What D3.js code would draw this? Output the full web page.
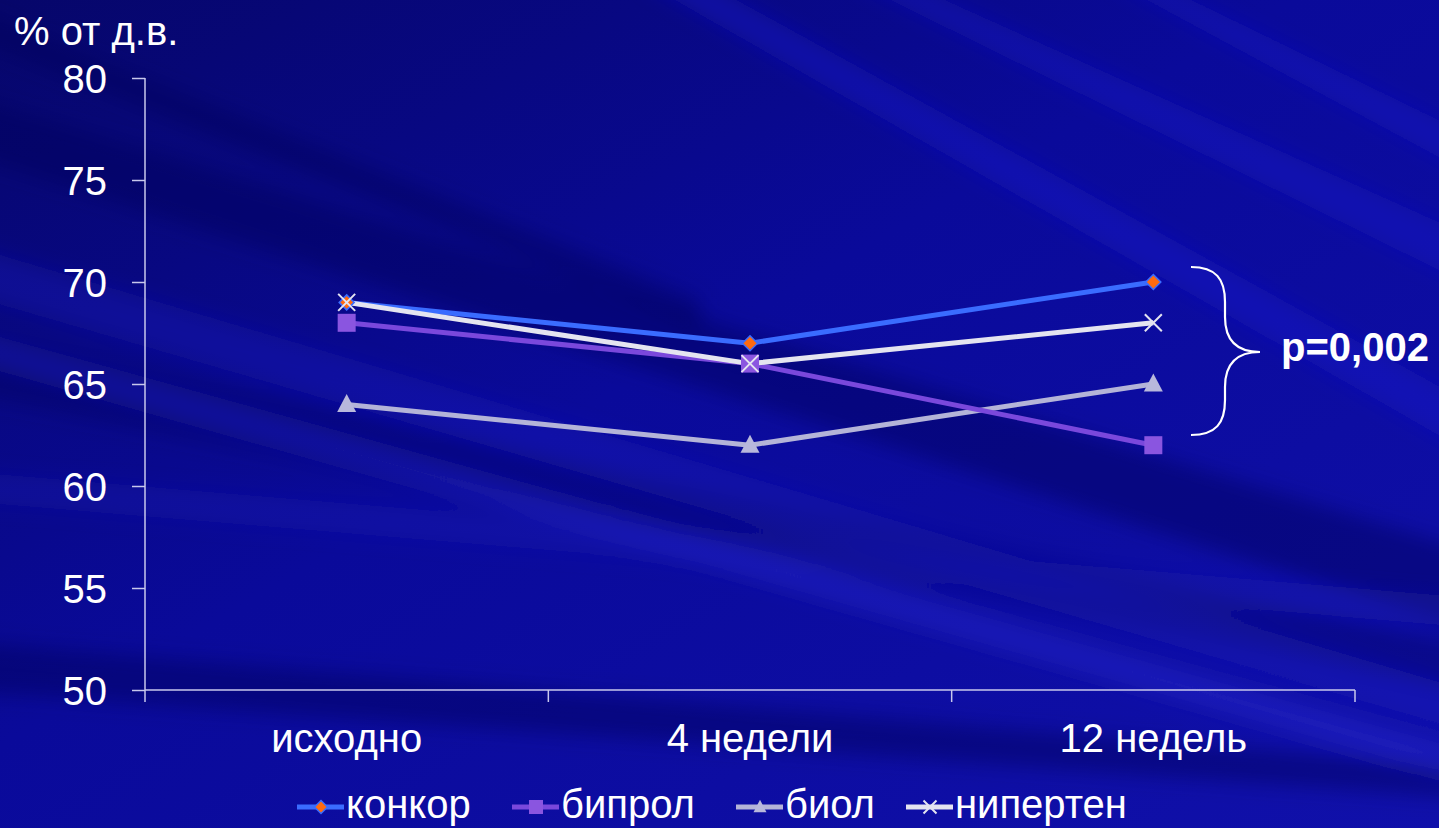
<!DOCTYPE html>
<html><head><meta charset="utf-8">
<script src="https://cdn.jsdelivr.net/npm/d3@7"></script>
<style>html,body{margin:0;padding:0;background:#0a0a90;overflow:hidden}</style>
</head><body>
<svg id="c" width="1439" height="828"></svg>
<script>
const categories = ["исходно", "4 недели", "12 недель"];
const yTicks = [50, 55, 60, 65, 70, 75, 80];
const seriesNames = ["конкор", "бипрол", "биол", "нипертен"];
const konkor = [69, 67, 70];
const biprol = [68, 66, 62];
const biol = [64, 62, 65];
const nipertan = [69, 66, 68];
const annotation = "p=0,002";
const yTitle = "% от д.в.";

const series = [
  {name: seriesNames[0], values: konkor, line: "#3a6cff", fill: "#ff6a10", marker: "diamond"},
  {name: seriesNames[1], values: biprol, line: "#7a48dc", fill: "#8a55e0", marker: "square"},
  {name: seriesNames[2], values: biol, line: "#b4b4d8", fill: "#b8b8dc", marker: "triangle"},
  {name: seriesNames[3], values: nipertan, line: "#e4e4f0", fill: "#e4e4f0", marker: "x"}
];

const svg = d3.select("#c");
const W = 1439, H = 828;
const defs = svg.append("defs");
const bg = defs.append("linearGradient").attr("id","bg").attr("x1","0").attr("y1","0").attr("x2","1").attr("y2","1");
bg.append("stop").attr("offset","0").attr("stop-color","#06066a");
bg.append("stop").attr("offset","0.45").attr("stop-color","#0a0a9a");
bg.append("stop").attr("offset","1").attr("stop-color","#1010aa");
defs.append("filter").attr("id","blur").attr("x","-20%").attr("y","-20%").attr("width","140%").attr("height","140%")
  .append("feGaussianBlur").attr("stdDeviation", 10);
svg.append("rect").attr("width",W).attr("height",H).attr("fill","url(#bg)");
// diagonal streaks (decorative background)
const streaks = [
  [[-50,90],[1500,560],[1500,640],[-50,150],"#04045a",0.45],
  [[-50,330],[1500,650],[1500,700],[-50,390],"#04045a",0.35],
  [[-50,640],[1500,770],[1500,800],[-50,690],"#04045a",0.45],
  [[700,-20],[1500,420],[1500,470],[640,-20],"#1c1cd0",0.4],
  [[900,-20],[1500,250],[1500,300],[850,-20],"#1c1cd0",0.35],
  [[1150,-20],[1500,150],[1500,190],[1110,-20],"#1c1cd0",0.35],
  [[-50,240],[1500,700],[1500,740],[-50,290],"#1c1cc8",0.3],
  [[-50,330],[1500,760],[1500,790],[-50,350],"#2e2ed8",0.4],
  [[-50,470],[1500,600],[1500,630],[-50,500],"#1a1ac0",0.25],
  [[-50,0],[700,300],[700,330],[-50,30],"#04045a",0.45]
];
const gbg = svg.append("g").attr("filter","url(#blur)");
streaks.forEach(s => {
  gbg.append("polygon").attr("points", s.slice(0,4).map(p=>p.join(",")).join(" "))
    .attr("fill", s[4]).attr("opacity", s[5]);
});

const x = d3.scaleBand().domain(categories).range([145, 1355]);
const y = d3.scaleLinear().domain([50, 80]).range([690, 78]);

const font = "Arial, 'Liberation Sans', sans-serif";
const axisColor = "#c8c8ec";
// y axis
const yAxis = d3.axisLeft(y).tickValues(yTicks).tickSize(13).tickPadding(25);
const gy = svg.append("g").attr("transform","translate(145,0)").call(yAxis);
gy.selectAll("path,line").attr("stroke",axisColor).attr("stroke-width",1.5);
gy.select("path").attr("d","M0,78V690");
gy.selectAll("text").attr("fill","#ffffff").style("font-family",font).style("font-size","40px").attr("dy","0.36em");

// x axis
const xAxis = d3.axisBottom(x).tickSize(0).tickPadding(34);
const gx = svg.append("g").attr("transform","translate(0,690)").call(xAxis);
gx.select("path").attr("stroke",axisColor).attr("stroke-width",1.5).attr("d","M145,0H1355");
gx.selectAll("text").attr("fill","#ffffff").style("font-family",font).style("font-size","40px");
// boundary ticks
const bounds = [x.range()[0]].concat(categories.map(c => x(c) + x.bandwidth()));
svg.append("g").selectAll("line").data(bounds).join("line")
  .attr("x1",d=>d).attr("x2",d=>d).attr("y1",690).attr("y2",702)
  .attr("stroke",axisColor).attr("stroke-width",1.5);

const cx = c => x(c) + x.bandwidth()/2;

function marker(g, type, px, py, fill, s) {
  if (type === "diamond") {
    g.append("path").attr("d", `M${px},${py-s}L${px+s},${py}L${px},${py+s}L${px-s},${py}Z`).attr("fill", fill).attr("stroke","#3a6cff").attr("stroke-width",1.5);
  } else if (type === "square") {
    g.append("rect").attr("x",px-s).attr("y",py-s).attr("width",2*s).attr("height",2*s).attr("fill",fill);
  } else if (type === "triangle") {
    g.append("path").attr("d", `M${px},${py-s*1.1}L${px+s},${py+s*0.8}L${px-s},${py+s*0.8}Z`).attr("fill",fill);
  } else if (type === "x") {
    g.append("path").attr("d", `M${px-s},${py-s}L${px+s},${py+s}M${px-s},${py+s}L${px+s},${py-s}`).attr("stroke",fill).attr("stroke-width",2);
  }
}
const msize = {diamond: 7.5, square: 9, triangle: 9.5, x: 8.5};

const line = d3.line().x((d,i)=>cx(categories[i])).y(d=>y(d));
const order = [2,1,0,3];
order.forEach(k => {
  const s = series[k];
  svg.append("path").datum(s.values).attr("d", line).attr("fill","none")
    .attr("stroke", s.line).attr("stroke-width",5).attr("stroke-linejoin","round");
});
order.forEach(k => {
  const s = series[k];
  const g = svg.append("g");
  s.values.forEach((v,i) => marker(g, s.marker, cx(categories[i]), y(v), s.fill, msize[s.marker]));
});

// y title
svg.append("text").attr("x",14).attr("y",45).text(yTitle).attr("fill","#fff")
  .style("font-family",font).style("font-size","40px");

// brace
const bx = 1191, by0 = 267, by1 = 435, bm = 352, bw = 69;
svg.append("path").attr("d",
  `M${bx},${by0} C${bx+25},${by0} ${bx+34},${by0+12} ${bx+34},${by0+35} L${bx+34},${bm-35} C${bx+34},${bm-10} ${bx+48},${bm} ${bx+bw},${bm}` +
  ` C${bx+48},${bm} ${bx+34},${bm+10} ${bx+34},${bm+35} L${bx+34},${by1-35} C${bx+34},${by1-12} ${bx+25},${by1} ${bx},${by1}`)
  .attr("fill","none").attr("stroke","#fff").attr("stroke-width",2.2);
svg.append("text").attr("x",1281).attr("y",361).text(annotation).attr("fill","#fff")
  .style("font-family",font).style("font-size","40px").style("font-weight","bold");

// legend
const legendX = [297, 512, 736, 906];
const ly = 807;
series.forEach((s,k) => {
  const g = svg.append("g");
  const lx = legendX[k];
  g.append("line").attr("x1",lx).attr("x2",lx+47).attr("y1",ly).attr("y2",ly).attr("stroke",s.line).attr("stroke-width",5);
  marker(g, s.marker, lx+24, ly, s.fill, s.marker==="square"?7:6.5);
  g.append("text").attr("x",lx+49).attr("y",818).text(s.name).attr("fill","#fff")
    .style("font-family",font).style("font-size","40px");
});
</script>
</body></html>
